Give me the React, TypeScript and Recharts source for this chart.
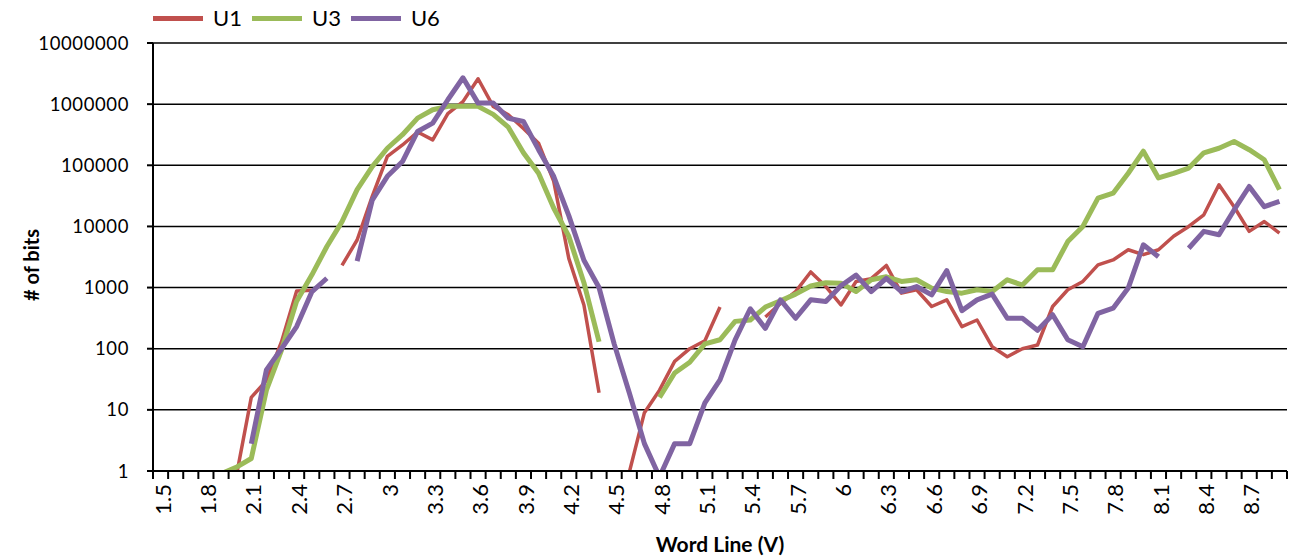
import { LineChart, Line, XAxis, YAxis, CartesianGrid, Legend } from "recharts";

// word line voltage, one category per 0.1 V
const voltages = [
  1.5, 1.6, 1.7, 1.8, 1.9, 2.0, 2.1, 2.2, 2.3, 2.4,
  2.5, 2.6, 2.7, 2.8, 2.9, 3.0, 3.1, 3.2, 3.3, 3.4,
  3.5, 3.6, 3.7, 3.8, 3.9, 4.0, 4.1, 4.2, 4.3, 4.4,
  4.5, 4.6, 4.7, 4.8, 4.9, 5.0, 5.1, 5.2, 5.3, 5.4,
  5.5, 5.6, 5.7, 5.8, 5.9, 6.0, 6.1, 6.2, 6.3, 6.4,
  6.5, 6.6, 6.7, 6.8, 6.9, 7.0, 7.1, 7.2, 7.3, 7.4,
  7.5, 7.6, 7.7, 7.8, 7.9, 8.0, 8.1, 8.2, 8.3, 8.4,
  8.5, 8.6, 8.7, 8.8, 8.9,
];

const u1 = [
  null, null, null, null, null, 0.8, 16, 30, 130, 880,
  900, null, 2300, 6000, 31000, 140000, 215000, 350000, 260000, 700000,
  1100000, 2600000, 920000, 670000, 400000, 230000, 55000, 3000, 520, 19,
  null, 0.95, 9, 21, 62, 100, 135, 480, null, null,
  330, 550, 860, 1800, 1040, 520, 1260, 1400, 2300, 810,
  920, 490, 630, 230, 295, 108, 74, 100, 115, 490,
  920, 1260, 2350, 2830, 4150, 3450, 4150, 6900, 10000, 15500,
  48000, 21000, 8300, 12000, 7800,
];

const u3 = [
  null, null, null, null, 0.9, 1.15, 1.6, 21, 95, 600,
  1600, 4700, 12000, 40000, 95000, 190000, 316000, 590000, 810000, 920000,
  920000, 920000, 680000, 420000, 160000, 74000, 20000, 6900, 1200, 130,
  null, null, null, 16, 40, 60, 120, 140, 280, 295,
  480, 610, 780, 1060, 1200, 1180, 860, 1340, 1500, 1260,
  1340, 980, 860, 810, 920, 860, 1340, 1100, 1950, 1950,
  5650, 10000, 29000, 35000, 74000, 170000, 62000, 74000, 90000, 160000,
  190000, 245000, 180000, 123000, 40000,
];

const u6 = [
  null, null, null, null, null, null, 2.8, 45, 100, 230,
  850, 1420, null, 2700, 27000, 66000, 115000, 357000, 490000, 1180000,
  2700000, 1040000, 1040000, 590000, 520000, 180000, 66000, 15000, 2800, 1000,
  120, 19, 2.8, 0.8, 2.8, 2.8, 13, 31, 140, 450,
  215, 630, 315, 630, 590, 1070, 1600, 860, 1420, 860,
  1040, 760, 1900, 420, 630, 780, 315, 315, 200, 360,
  140, 108, 380, 460, 980, 5000, 3200, null, 4400, 8300,
  7300, 18600, 45000, 21000, 25700,
];

const yTicks = [1, 10, 100, 1000, 10000, 100000, 1000000, 10000000];

const series = [
  { key: "U1", color: "#C0504D", width: 3.5 },
  { key: "U3", color: "#9BBB59", width: 5 },
  { key: "U6", color: "#8064A2", width: 5 },
];

const data = voltages.map((v, i) => ({ v: String(v), U1: u1[i], U3: u3[i], U6: u6[i] }));

const FONT = "Lato, 'Open Sans', sans-serif";
const W = 1293;
const H = 559;
const Y_W = 153;
const M_RIGHT = 6;
const HALF = (W - Y_W - M_RIGHT) / voltages.length / 2;

function XTick(props: any) {
  const { x, y, payload, index } = props;
  const i = payload?.index ?? index;
  const last = i === voltages.length - 1;
  return (
    <g>
      <line x1={x - HALF} x2={x - HALF} y1={y} y2={y + 8} stroke="#000" strokeWidth={2} />
      {last && <line x1={x + HALF} x2={x + HALF} y1={y} y2={y + 8} stroke="#000" strokeWidth={2} />}
      {i % 3 === 0 && (
        <text
          transform={`translate(${x + 2},${y + 13}) rotate(-90)`}
          textAnchor="end"
          dy="0.37em"
          fontSize={22}
          fill="#000"
        >
          {payload.value}
        </text>
      )}
    </g>
  );
}

function YLabel() {
  return (
    <text
      x={31}
      y={265}
      transform="rotate(-90 31 265)"
      textAnchor="middle"
      dominantBaseline="central"
      fontSize={20}
      fontWeight={700}
      fill="#000"
    >
      # of bits
    </text>
  );
}

function renderLegend() {
  return (
    <div style={{ display: "flex", alignItems: "center", fontFamily: FONT, fontSize: 22, color: "#000" }}>
      {series.map((s) => (
        <div key={s.key} style={{ display: "flex", alignItems: "center", marginRight: 10 }}>
          <span style={{ display: "inline-block", width: 50, height: 5, background: s.color, marginRight: 10 }} />
          <span>{s.key}</span>
        </div>
      ))}
    </div>
  );
}

export default function App() {
  return (
    <div style={{ position: "absolute", left: 0, top: 0, width: W, height: H, background: "#fff", fontFamily: FONT }}>
      <LineChart width={W} height={H} data={data} margin={{ top: 43, right: M_RIGHT, bottom: 0, left: 0 }}>
        <CartesianGrid vertical={false} stroke="#000" strokeWidth={1.5} />
        <XAxis
          dataKey="v"
          interval={0}
          height={88}
          tickSize={0}
          tickMargin={0}
          tickLine={false}
          padding={{ left: HALF, right: HALF }}
          axisLine={{ stroke: "#000", strokeWidth: 2 }}
          tick={<XTick />}
          label={{ value: "Word Line (V)", position: "insideBottom", offset: 7, fill: "#000", fontSize: 21, fontWeight: 700 }}
        />
        <YAxis
          type="number"
          scale="log"
          domain={[1, 10000000]}
          ticks={yTicks}
          interval={0}
          allowDataOverflow
          width={Y_W}
          tickSize={6}
          tickMargin={18}
          tick={{ fill: "#000", fontSize: 18.5, letterSpacing: 0.6 }}
          axisLine={{ stroke: "#000", strokeWidth: 2 }}
          tickLine={{ stroke: "#000", strokeWidth: 2 }}
          tickFormatter={(v: number) => String(v)}
          label={YLabel}
        />
        <Legend
          layout="horizontal"
          verticalAlign="middle"
          align="center"
          content={renderLegend}
          wrapperStyle={{ top: 4, left: 153, width: "auto", height: 28, lineHeight: "28px" }}
        />
        {series.map((s) => (
          <Line
            key={s.key}
            dataKey={s.key}
            type="linear"
            stroke={s.color}
            strokeWidth={s.width}
            strokeLinejoin="round"
            dot={false}
            activeDot={false}
            connectNulls={false}
            isAnimationActive={false}
          />
        ))}
      </LineChart>
    </div>
  );
}
